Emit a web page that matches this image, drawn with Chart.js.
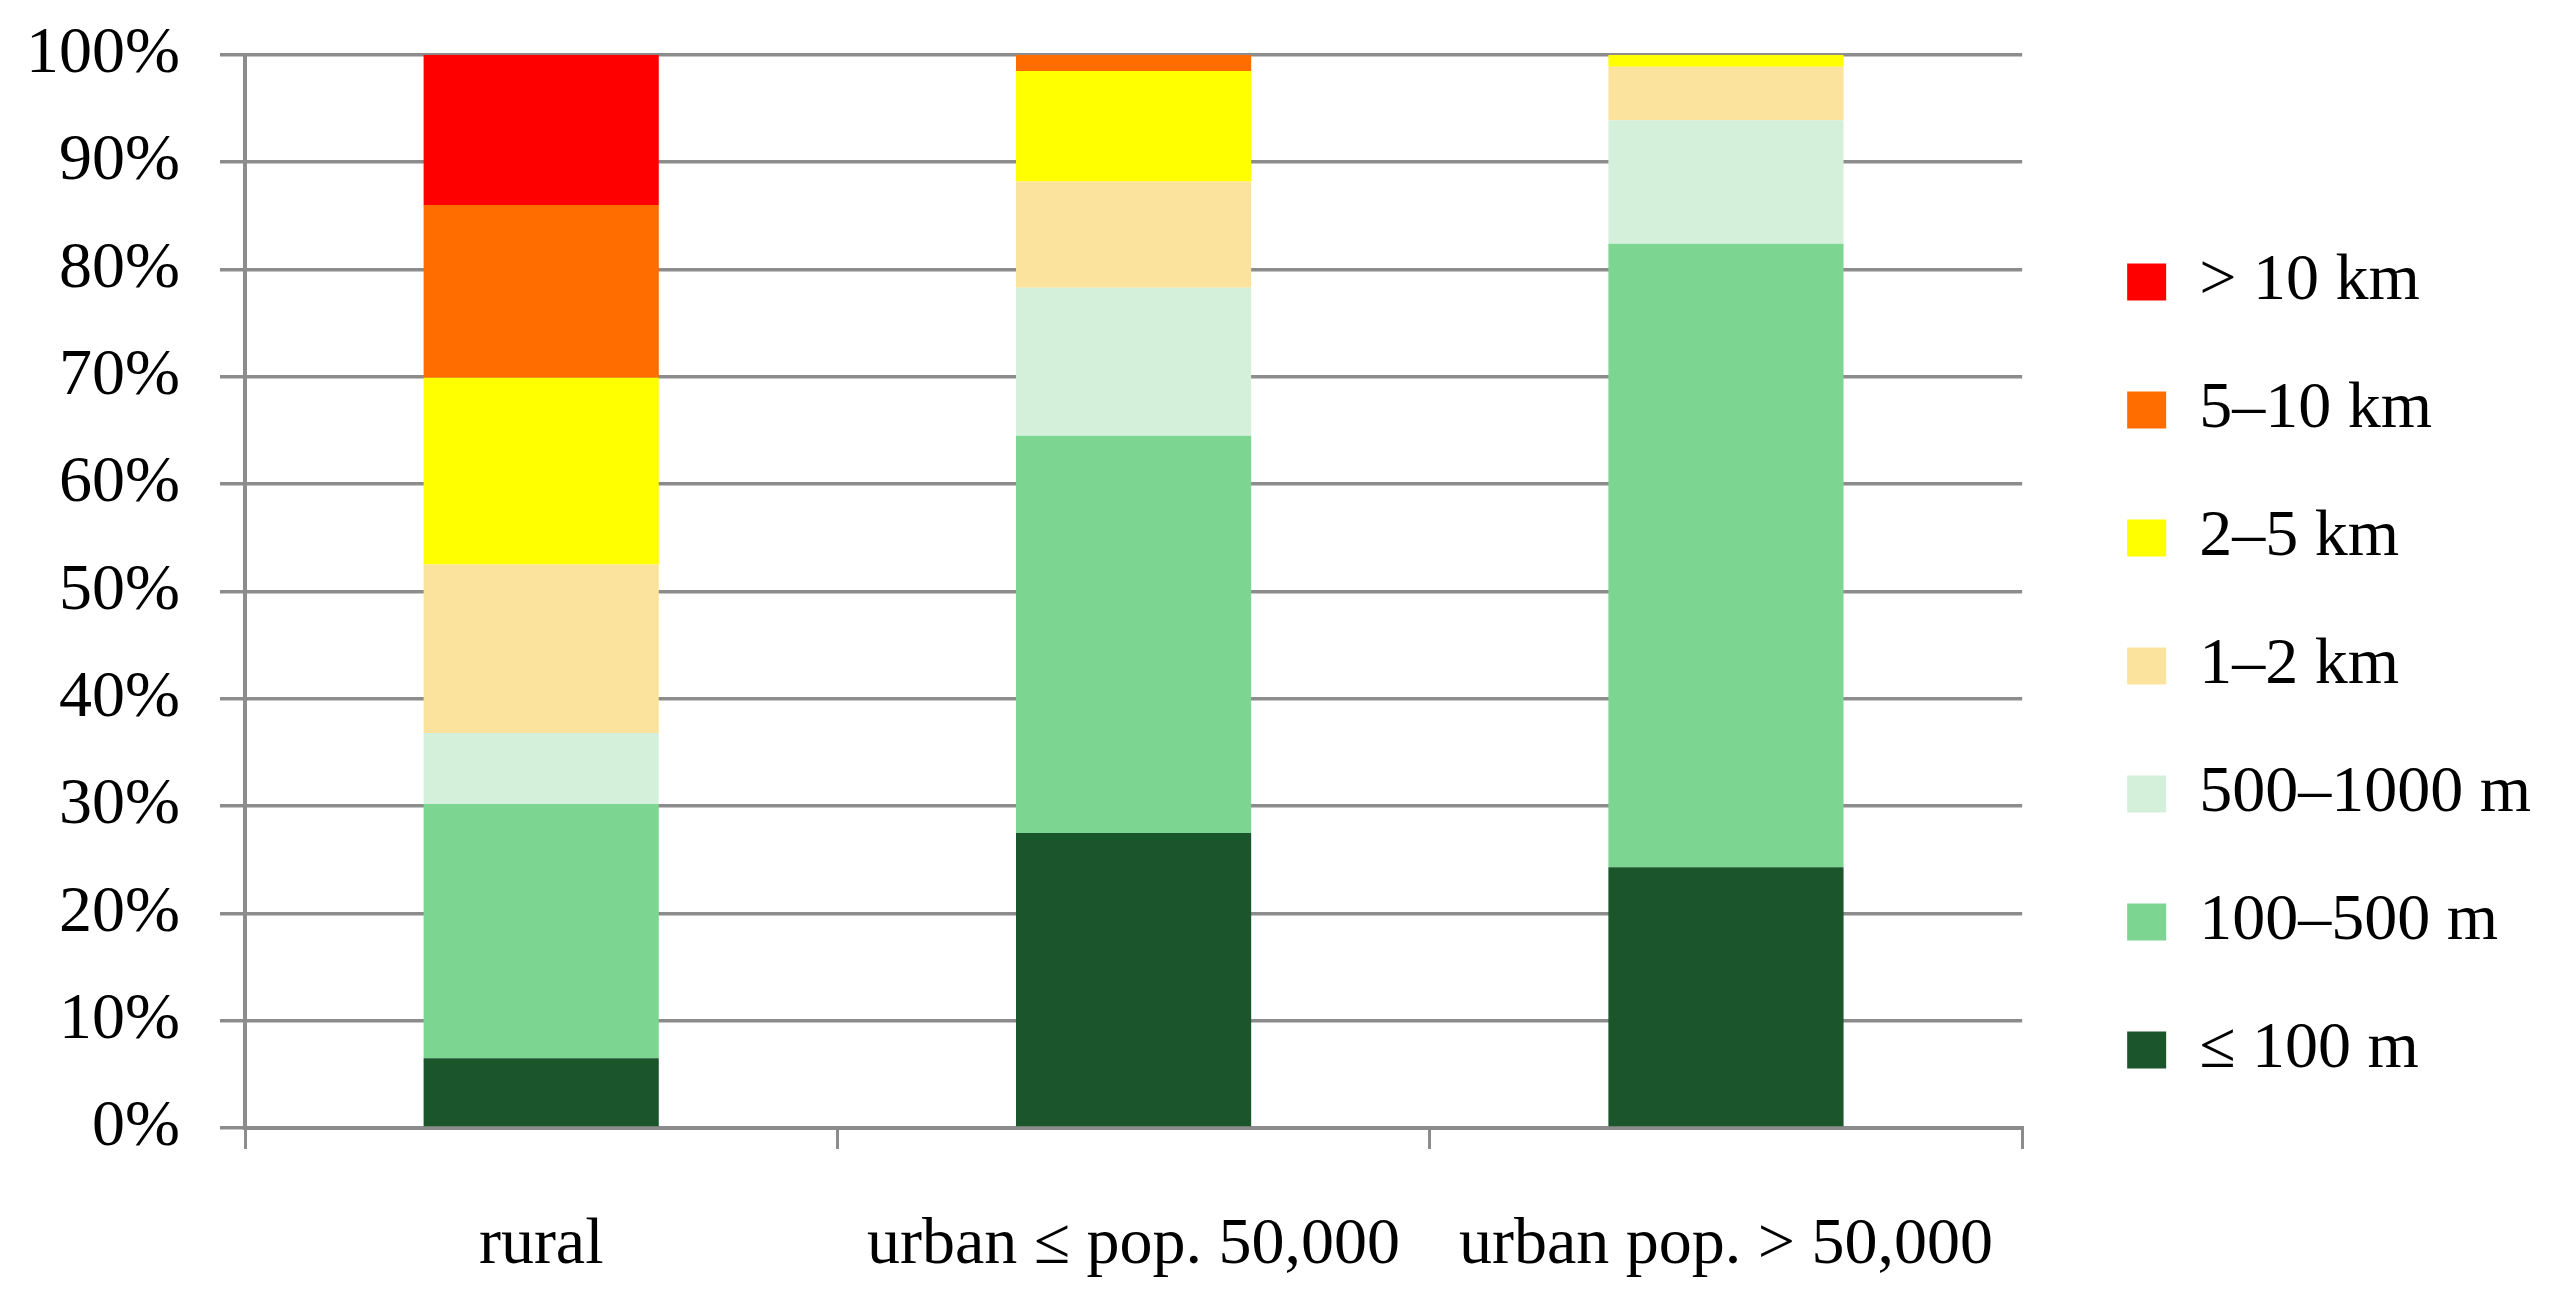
<!DOCTYPE html>
<html>
<head>
<meta charset="utf-8">
<script src="https://cdn.jsdelivr.net/npm/chart.js@4/dist/chart.umd.min.js"></script>
<style>
  html, body { margin: 0; padding: 0; background: #fff; }
  #wrap { width: 2557px; height: 1302px; }
</style>
</head>
<body>
<div id="wrap"><canvas id="distChart"></canvas></div>
<script>
// Kategorie i dane (udział %, od dołu stosu)
const categories = ['rural', 'urban ≤ pop. 50,000', 'urban pop. > 50,000'];
const seriesNames = ['≤ 100 m', '100–500 m', '500–1000 m', '1–2 km', '2–5 km', '5–10 km', '> 10 km'];
const upTo100m   = [6.5, 27.5, 24.3];
const m100to500  = [23.7, 37.0, 58.1];
const m500to1000 = [6.6, 13.8, 11.5];
const km1to2     = [15.7, 9.9, 5.0];
const km2to5     = [17.4, 10.3, 1.1];
const km5to10    = [16.1, 1.5, 0];
const over10km   = [14.0, 0, 0];
const yTicks = [0, 10, 20, 30, 40, 50, 60, 70, 80, 90, 100];

const seriesValues = [upTo100m, m100to500, m500to1000, km1to2, km2to5, km5to10, over10km];
const colors = ['#1B552B', '#7CD692', '#D4F0DB', '#FBE39D', '#FFFF00', '#FF6D00', '#FF0000'];

const gridGray = '#8C8C8C';
const fontFamily = "'Liberation Serif', 'Times New Roman', serif";

// odstęp między osią a legendą (poziomo) i przesunięcie legendy w dół
const legendGapX = 43;
const legendShiftY = 15;

const datasets = seriesNames.map((name, i) => ({
  label: name,
  data: seriesValues[i],
  backgroundColor: colors[i],
  borderWidth: 0,
  barPercentage: 0.397,
  categoryPercentage: 1.0
}));

const ctx = document.getElementById('distChart').getContext('2d');
const chart = new Chart(ctx, {
  type: 'bar',
  data: { labels: categories, datasets: datasets },
  options: {
    responsive: true,
    maintainAspectRatio: false,
    animation: false,
    layout: { padding: { left: 25, top: 0, right: 16, bottom: 0 } },
    plugins: {
      tooltip: { enabled: false },
      legend: {
        position: 'right',
        reverse: true,
        labels: {
          boxWidth: 39,
          boxHeight: 37,
          padding: 62,
          color: '#000',
          font: { family: fontFamily, size: 66 }
        }
      }
    },
    scales: {
      x: {
        stacked: true,
        afterFit: (scale) => { scale.height = 174; },
        border: { display: true, color: gridGray, width: 4 },
        grid: {
          offset: true,
          drawOnChartArea: false,
          drawTicks: true,
          tickLength: 21,
          color: gridGray,
          lineWidth: 3
        },
        ticks: {
          color: '#000',
          padding: 57,
          maxRotation: 0,
          autoSkip: false,
          font: { family: fontFamily, size: 66 }
        }
      },
      y: {
        stacked: true,
        min: 0,
        max: 100,
        afterBuildTicks: (scale) => {
          scale.ticks = yTicks.map(v => ({ value: v }));
        },
        afterFit: (scale) => { scale.width = 220; },
        border: { display: true, color: gridGray, width: 4 },
        grid: {
          color: gridGray,
          lineWidth: 3.5,
          drawTicks: true,
          tickLength: 25
        },
        ticks: {
          color: '#000',
          padding: 40,
          autoSkip: false,
          font: { family: fontFamily, size: 66, lineHeight: 0.45 },
          callback: (v) => v + '%'
        }
      }
    }
  }
});

// Legenda: dodatkowy odstęp od wykresu
const legend = chart.legend;
const origFit = legend.fit;
legend.fit = function () {
  origFit.call(this);
  this.width += legendGapX;
};
const origDraw = legend.draw;
legend.draw = function () {
  const c = this.ctx;
  c.save();
  c.translate(legendGapX, legendShiftY);
  origDraw.call(this);
  c.restore();
};
chart.update();
</script>
</body>
</html>
